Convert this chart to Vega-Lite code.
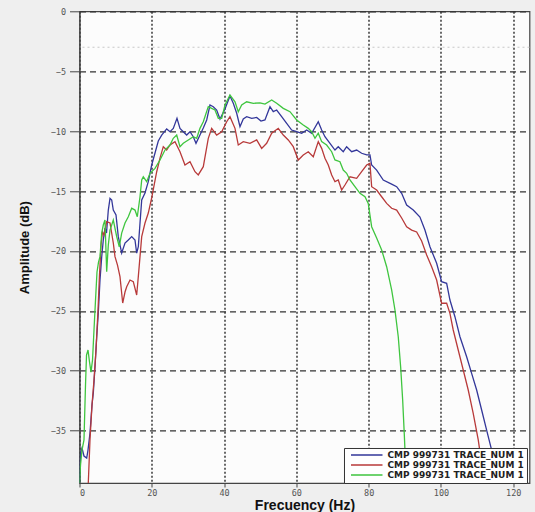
{
  "$schema": "https://vega.github.io/schema/vega-lite/v6.json",
  "width": 450,
  "height": 471.7,
  "autosize": {"type": "none"},
  "padding": {"left": 79.5, "top": 11.3, "right": 5.5, "bottom": 28.7},
  "background": "#efefef",
  "config": {
    "view": {"fill": "#fcfcfc", "stroke": "#444", "strokeWidth": 1.2},
    "axis": {
      "labelFont": "DejaVu Sans Mono", "labelFontSize": 8.5, "labelColor": "#555",
      "titleFont": "Liberation Sans", "titleFontWeight": "bold", "titleColor": "#111",
      "domainColor": "#444", "tickColor": "#444", "gridColor": "#333", "gridOpacity": 1
    }
  },
  "datasets": {
    "ref": [{"db": -3}],
    "spectra": [
      {"s":"A","f":0.0,"db":-39.37},{"s":"A","f":0.28,"db":-36.87},{"s":"A","f":0.69,"db":-36.45},{"s":"A","f":1.24,"db":-37.12},{"s":"A","f":1.99,"db":-37.29},{"s":"A","f":2.35,"db":-36.62},{"s":"A","f":2.9,"db":-35.2},{"s":"A","f":3.46,"db":-32.86},{"s":"A","f":3.82,"db":-31.86},{"s":"A","f":4.29,"db":-29.69},{"s":"A","f":4.76,"db":-27.19},{"s":"A","f":5.2,"db":-25.18},{"s":"A","f":5.67,"db":-22.43},{"s":"A","f":6.14,"db":-20.51},{"s":"A","f":6.58,"db":-19.09},{"s":"A","f":7.05,"db":-18.09},{"s":"A","f":7.47,"db":-18.51},{"s":"A","f":7.97,"db":-16.59},{"s":"A","f":8.44,"db":-15.61},{"s":"A","f":8.91,"db":-15.75},{"s":"A","f":9.35,"db":-16.59},{"s":"A","f":10.1,"db":-17.0},{"s":"A","f":10.73,"db":-18.81},{"s":"A","f":11.67,"db":-20.18},{"s":"A","f":12.59,"db":-19.34},{"s":"A","f":13.5,"db":-19.09},{"s":"A","f":14.44,"db":-18.81},{"s":"A","f":15.35,"db":-19.09},{"s":"A","f":15.82,"db":-20.18},{"s":"A","f":16.27,"db":-19.65},{"s":"A","f":16.74,"db":-17.67},{"s":"A","f":17.21,"db":-15.75},{"s":"A","f":18.12,"db":-15.17},{"s":"A","f":19.03,"db":-14.22},{"s":"A","f":19.97,"db":-12.83},{"s":"A","f":20.89,"db":-11.83},{"s":"A","f":21.8,"db":-10.83},{"s":"A","f":22.74,"db":-10.33},{"s":"A","f":24.12,"db":-9.82},{"s":"A","f":25.03,"db":-10.05},{"s":"A","f":25.95,"db":-9.77},{"s":"A","f":26.97,"db":-8.93},{"s":"A","f":27.8,"db":-9.77},{"s":"A","f":28.71,"db":-10.05},{"s":"A","f":29.65,"db":-10.33},{"s":"A","f":30.57,"db":-10.05},{"s":"A","f":31.48,"db":-10.47},{"s":"A","f":32.23,"db":-11.02},{"s":"A","f":33.33,"db":-10.33},{"s":"A","f":34.25,"db":-9.74},{"s":"A","f":35.19,"db":-9.07},{"s":"A","f":36.1,"db":-7.82},{"s":"A","f":37.01,"db":-7.96},{"s":"A","f":37.95,"db":-8.24},{"s":"A","f":38.87,"db":-8.99},{"s":"A","f":40.25,"db":-8.16},{"s":"A","f":41.63,"db":-7.07},{"s":"A","f":42.55,"db":-7.68},{"s":"A","f":43.49,"db":-8.51},{"s":"A","f":44.4,"db":-9.63},{"s":"A","f":45.31,"db":-8.99},{"s":"A","f":46.25,"db":-8.8},{"s":"A","f":47.64,"db":-8.93},{"s":"A","f":49.02,"db":-8.86},{"s":"A","f":50.21,"db":-9.16},{"s":"A","f":51.31,"db":-9.07},{"s":"A","f":52.7,"db":-7.96},{"s":"A","f":53.61,"db":-8.38},{"s":"A","f":54.55,"db":-8.24},{"s":"A","f":55.93,"db":-8.8},{"s":"A","f":57.32,"db":-9.35},{"s":"A","f":58.7,"db":-9.91},{"s":"A","f":60.08,"db":-10.05},{"s":"A","f":61.47,"db":-10.18},{"s":"A","f":62.85,"db":-9.91},{"s":"A","f":64.23,"db":-10.18},{"s":"A","f":66.06,"db":-9.22},{"s":"A","f":67.0,"db":-9.91},{"s":"A","f":67.91,"db":-10.47},{"s":"A","f":69.3,"db":-11.02},{"s":"A","f":70.68,"db":-11.58},{"s":"A","f":71.59,"db":-11.3},{"s":"A","f":72.97,"db":-11.72},{"s":"A","f":73.91,"db":-11.3},{"s":"A","f":75.3,"db":-11.72},{"s":"A","f":76.68,"db":-11.58},{"s":"A","f":78.06,"db":-11.85},{"s":"A","f":79.45,"db":-11.99},{"s":"A","f":80.36,"db":-11.99},{"s":"A","f":80.83,"db":-12.83},{"s":"A","f":82.21,"db":-13.25},{"s":"A","f":84.04,"db":-14.08},{"s":"A","f":86.36,"db":-14.42},{"s":"A","f":87.75,"db":-14.64},{"s":"A","f":89.13,"db":-15.19},{"s":"A","f":90.51,"db":-16.17},{"s":"A","f":92.34,"db":-16.59},{"s":"A","f":94.19,"db":-17.17},{"s":"A","f":95.57,"db":-18.26},{"s":"A","f":96.96,"db":-19.65},{"s":"A","f":98.81,"db":-21.03},{"s":"A","f":100.19,"db":-22.57},{"s":"A","f":101.58,"db":-22.7},{"s":"A","f":102.49,"db":-24.1},{"s":"A","f":103.87,"db":-25.49},{"s":"A","f":105.26,"db":-27.16},{"s":"A","f":107.11,"db":-28.83},{"s":"A","f":108.49,"db":-30.22},{"s":"A","f":109.88,"db":-31.61},{"s":"A","f":111.26,"db":-33.28},{"s":"A","f":112.64,"db":-34.95},{"s":"A","f":114.03,"db":-36.62},{"s":"A","f":115.41,"db":-38.29},{"s":"A","f":117.1,"db":-39.37},
      {"s":"B","f":2.43,"db":-39.37},{"s":"B","f":2.9,"db":-35.78},{"s":"B","f":3.46,"db":-32.86},{"s":"B","f":4.01,"db":-30.78},{"s":"B","f":4.56,"db":-28.27},{"s":"B","f":5.12,"db":-24.93},{"s":"B","f":5.53,"db":-22.01},{"s":"B","f":5.95,"db":-19.51},{"s":"B","f":6.36,"db":-18.42},{"s":"B","f":6.78,"db":-18.67},{"s":"B","f":7.52,"db":-17.56},{"s":"B","f":8.44,"db":-17.67},{"s":"B","f":9.35,"db":-19.34},{"s":"B","f":9.82,"db":-20.48},{"s":"B","f":10.51,"db":-21.18},{"s":"B","f":11.2,"db":-22.15},{"s":"B","f":11.95,"db":-24.35},{"s":"B","f":12.59,"db":-23.43},{"s":"B","f":13.06,"db":-22.99},{"s":"B","f":13.97,"db":-22.43},{"s":"B","f":14.88,"db":-22.57},{"s":"B","f":15.82,"db":-23.68},{"s":"B","f":16.27,"db":-22.15},{"s":"B","f":16.74,"db":-20.48},{"s":"B","f":17.21,"db":-18.81},{"s":"B","f":18.12,"db":-17.67},{"s":"B","f":19.03,"db":-16.84},{"s":"B","f":19.97,"db":-15.58},{"s":"B","f":21.36,"db":-13.39},{"s":"B","f":22.27,"db":-12.25},{"s":"B","f":23.18,"db":-11.3},{"s":"B","f":24.12,"db":-11.58},{"s":"B","f":25.03,"db":-11.16},{"s":"B","f":26.42,"db":-10.88},{"s":"B","f":27.8,"db":-11.72},{"s":"B","f":29.18,"db":-12.83},{"s":"B","f":30.57,"db":-12.55},{"s":"B","f":31.95,"db":-13.39},{"s":"B","f":32.86,"db":-13.66},{"s":"B","f":34.25,"db":-12.97},{"s":"B","f":35.63,"db":-10.6},{"s":"B","f":36.57,"db":-9.77},{"s":"B","f":37.95,"db":-10.33},{"s":"B","f":39.34,"db":-10.05},{"s":"B","f":40.72,"db":-9.22},{"s":"B","f":41.63,"db":-8.8},{"s":"B","f":43.02,"db":-9.77},{"s":"B","f":43.93,"db":-11.16},{"s":"B","f":45.31,"db":-10.88},{"s":"B","f":47.16,"db":-11.02},{"s":"B","f":49.02,"db":-10.74},{"s":"B","f":50.4,"db":-11.44},{"s":"B","f":51.78,"db":-11.02},{"s":"B","f":53.17,"db":-10.18},{"s":"B","f":54.99,"db":-9.77},{"s":"B","f":56.38,"db":-10.33},{"s":"B","f":57.76,"db":-10.74},{"s":"B","f":59.14,"db":-11.3},{"s":"B","f":60.53,"db":-12.41},{"s":"B","f":61.91,"db":-11.99},{"s":"B","f":63.29,"db":-11.72},{"s":"B","f":64.68,"db":-12.14},{"s":"B","f":66.06,"db":-10.88},{"s":"B","f":67.0,"db":-11.44},{"s":"B","f":67.91,"db":-12.27},{"s":"B","f":68.83,"db":-12.83},{"s":"B","f":69.77,"db":-13.66},{"s":"B","f":70.68,"db":-14.22},{"s":"B","f":71.59,"db":-14.08},{"s":"B","f":72.53,"db":-14.92},{"s":"B","f":73.44,"db":-14.5},{"s":"B","f":74.83,"db":-13.81},{"s":"B","f":76.68,"db":-13.94},{"s":"B","f":78.06,"db":-13.39},{"s":"B","f":79.45,"db":-12.83},{"s":"B","f":80.36,"db":-12.69},{"s":"B","f":80.83,"db":-14.64},{"s":"B","f":82.21,"db":-14.92},{"s":"B","f":83.6,"db":-15.48},{"s":"B","f":84.98,"db":-16.03},{"s":"B","f":86.36,"db":-16.44},{"s":"B","f":87.75,"db":-16.59},{"s":"B","f":89.13,"db":-17.25},{"s":"B","f":90.51,"db":-17.98},{"s":"B","f":91.9,"db":-18.26},{"s":"B","f":93.28,"db":-18.42},{"s":"B","f":94.66,"db":-19.17},{"s":"B","f":96.05,"db":-20.34},{"s":"B","f":97.43,"db":-21.32},{"s":"B","f":98.81,"db":-22.43},{"s":"B","f":100.19,"db":-24.37},{"s":"B","f":101.58,"db":-24.37},{"s":"B","f":102.49,"db":-25.21},{"s":"B","f":103.4,"db":-26.6},{"s":"B","f":104.78,"db":-28.27},{"s":"B","f":106.17,"db":-29.94},{"s":"B","f":107.55,"db":-31.61},{"s":"B","f":108.93,"db":-33.56},{"s":"B","f":110.32,"db":-35.78},{"s":"B","f":111.26,"db":-37.73},{"s":"B","f":112.17,"db":-39.37},
      {"s":"C","f":0.0,"db":-39.37},{"s":"C","f":0.28,"db":-37.87},{"s":"C","f":0.69,"db":-36.62},{"s":"C","f":1.24,"db":-35.78},{"s":"C","f":1.66,"db":-31.19},{"s":"C","f":1.94,"db":-28.69},{"s":"C","f":2.35,"db":-28.27},{"s":"C","f":2.77,"db":-29.27},{"s":"C","f":3.18,"db":-30.11},{"s":"C","f":3.6,"db":-29.11},{"s":"C","f":4.01,"db":-26.6},{"s":"C","f":4.43,"db":-24.1},{"s":"C","f":4.84,"db":-21.76},{"s":"C","f":5.26,"db":-20.93},{"s":"C","f":5.67,"db":-20.48},{"s":"C","f":6.14,"db":-18.51},{"s":"C","f":6.58,"db":-17.84},{"s":"C","f":7.05,"db":-17.42},{"s":"C","f":7.52,"db":-21.74},{"s":"C","f":7.97,"db":-19.51},{"s":"C","f":8.44,"db":-18.26},{"s":"C","f":9.35,"db":-17.42},{"s":"C","f":10.29,"db":-18.81},{"s":"C","f":11.01,"db":-19.65},{"s":"C","f":11.67,"db":-18.51},{"s":"C","f":12.59,"db":-17.67},{"s":"C","f":13.5,"db":-17.15},{"s":"C","f":14.44,"db":-16.44},{"s":"C","f":15.35,"db":-16.59},{"s":"C","f":15.99,"db":-17.15},{"s":"C","f":16.74,"db":-15.48},{"s":"C","f":17.21,"db":-14.08},{"s":"C","f":17.65,"db":-13.81},{"s":"C","f":18.59,"db":-14.22},{"s":"C","f":19.5,"db":-13.52},{"s":"C","f":20.89,"db":-13.11},{"s":"C","f":22.27,"db":-12.41},{"s":"C","f":23.65,"db":-11.58},{"s":"C","f":25.03,"db":-11.16},{"s":"C","f":25.95,"db":-10.6},{"s":"C","f":26.89,"db":-10.33},{"s":"C","f":27.8,"db":-11.3},{"s":"C","f":28.71,"db":-11.02},{"s":"C","f":30.1,"db":-10.74},{"s":"C","f":31.48,"db":-10.47},{"s":"C","f":32.42,"db":-10.6},{"s":"C","f":33.33,"db":-9.77},{"s":"C","f":34.25,"db":-9.22},{"s":"C","f":35.63,"db":-7.96},{"s":"C","f":36.57,"db":-8.1},{"s":"C","f":37.48,"db":-8.24},{"s":"C","f":38.4,"db":-8.93},{"s":"C","f":39.34,"db":-8.93},{"s":"C","f":40.25,"db":-7.82},{"s":"C","f":41.63,"db":-6.99},{"s":"C","f":43.02,"db":-7.55},{"s":"C","f":43.93,"db":-8.38},{"s":"C","f":44.87,"db":-7.82},{"s":"C","f":46.25,"db":-7.55},{"s":"C","f":48.08,"db":-7.68},{"s":"C","f":49.93,"db":-7.65},{"s":"C","f":51.31,"db":-7.74},{"s":"C","f":53.17,"db":-7.4},{"s":"C","f":54.55,"db":-7.68},{"s":"C","f":56.38,"db":-8.1},{"s":"C","f":58.23,"db":-8.38},{"s":"C","f":60.08,"db":-9.07},{"s":"C","f":61.91,"db":-9.49},{"s":"C","f":63.29,"db":-9.77},{"s":"C","f":64.23,"db":-10.05},{"s":"C","f":65.15,"db":-10.6},{"s":"C","f":66.06,"db":-10.18},{"s":"C","f":67.0,"db":-10.88},{"s":"C","f":68.38,"db":-11.16},{"s":"C","f":69.77,"db":-11.72},{"s":"C","f":70.68,"db":-12.41},{"s":"C","f":72.06,"db":-12.55},{"s":"C","f":72.97,"db":-13.25},{"s":"C","f":73.91,"db":-13.52},{"s":"C","f":74.83,"db":-14.08},{"s":"C","f":76.21,"db":-14.64},{"s":"C","f":77.6,"db":-15.19},{"s":"C","f":78.98,"db":-15.48},{"s":"C","f":79.89,"db":-16.03},{"s":"C","f":80.83,"db":-17.98},{"s":"C","f":82.21,"db":-18.92},{"s":"C","f":83.6,"db":-19.92},{"s":"C","f":84.98,"db":-21.32},{"s":"C","f":86.36,"db":-23.26},{"s":"C","f":87.28,"db":-24.93},{"s":"C","f":88.19,"db":-27.16},{"s":"C","f":88.85,"db":-29.67},{"s":"C","f":89.41,"db":-32.45},{"s":"C","f":89.85,"db":-35.23},{"s":"C","f":90.24,"db":-38.01},{"s":"C","f":90.46,"db":-39.37}
    ]
  },
  "layer": [
    {
      "data": {"name": "ref"},
      "mark": {"type": "rule", "color": "#c8c8c8", "strokeDash": [2, 3], "strokeWidth": 1},
      "encoding": {
        "y": {"field": "db", "type": "quantitative", "scale": {"domain": [-39.37, 0], "nice": false, "zero": false}}
      }
    },
    {
      "data": {"name": "spectra"},
      "mark": {"type": "line", "strokeWidth": 1.3, "clip": true, "interpolate": "linear"},
      "encoding": {
        "x": {
          "field": "f", "type": "quantitative",
          "scale": {"domain": [0, 124.5], "nice": false, "zero": false},
          "axis": {
            "title": "Frecuency (Hz)", "titleFontSize": 14, "titlePadding": 1,
            "values": [0, 20, 40, 60, 80, 100, 120], "format": "d",
            "tickSize": 4, "labelPadding": 2,
            "grid": true, "gridDash": [2, 2], "gridWidth": 1.6, "gridColor": "#444"
          }
        },
        "y": {
          "field": "db", "type": "quantitative",
          "scale": {"domain": [-39.37, 0], "nice": false, "zero": false},
          "axis": {
            "title": "Amplitude (dB)", "titleFontSize": 13, "titlePadding": 19,
            "values": [-35, -30, -25, -20, -15, -10, -5, 0], "format": "d",
            "tickSize": 10, "labelPadding": 4,
            "grid": true, "gridDash": [6, 4], "gridWidth": 1.2, "gridColor": "#333"
          }
        },
        "color": {
          "field": "s", "type": "nominal",
          "scale": {"domain": ["A", "B", "C"], "range": ["#33379a", "#b83a3a", "#3fc53f"]},
          "legend": {
            "title": null,
            "orient": "none", "legendX": 264.5, "legendY": 436.7,
            "labelExpr": "'CMP 999731 TRACE_NUM 1'",
            "symbolType": "M0,0H9", "symbolSize": 49, "symbolStrokeWidth": 1.5,
            "labelOffset": 32,
            "labelFont": "DejaVu Sans", "labelFontWeight": "bold", "labelFontSize": 9, "labelColor": "#222",
            "rowPadding": 0, "padding": 2.5,
            "strokeColor": "#333", "fillColor": "#ffffff"
          }
        }
      }
    }
  ]
}
